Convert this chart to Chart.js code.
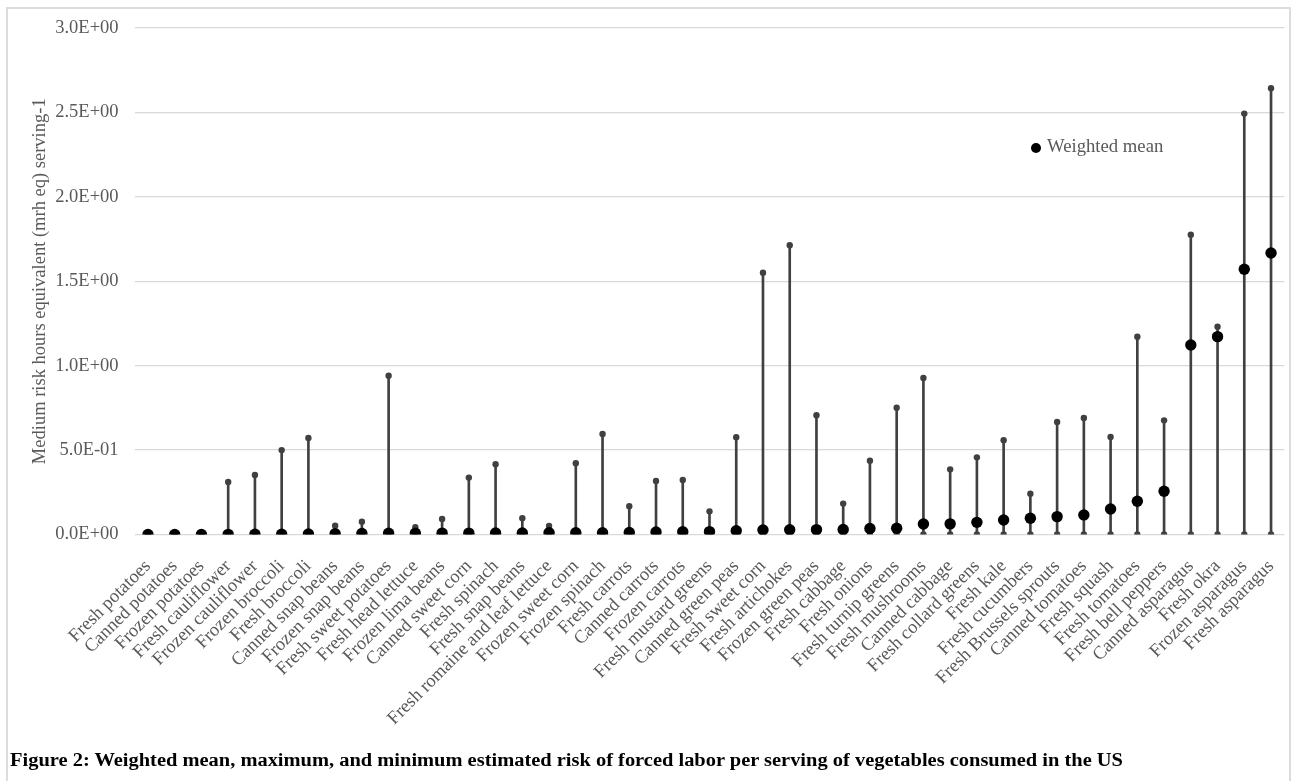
<!DOCTYPE html>
<html>
<head>
<meta charset="utf-8">
<script src="https://cdn.jsdelivr.net/npm/chart.js@4"></script>
<style>
html,body{margin:0;padding:0;background:#fff;width:1293px;height:781px;overflow:hidden;}
#frame{position:absolute;left:6px;top:7px;width:1285px;height:820px;border:2px solid #dcdcdc;box-sizing:border-box;}
#wrap{position:absolute;left:0;top:0;width:1293px;height:781px;}
#legendDot{position:absolute;left:1031px;top:143px;width:10px;height:10px;border-radius:50%;background:#000;}
#legendText{position:absolute;left:1047px;top:136px;font:18.7px "Liberation Serif","Times New Roman",serif;line-height:19px;color:#595959;white-space:nowrap;}
#caption{position:absolute;left:10px;top:751px;font:bold 18.5px "Liberation Serif","Times New Roman",serif;line-height:18.5px;color:#000;white-space:nowrap;transform-origin:0 0;}
</style>
</head>
<body>
<div id="frame"></div>
<div id="wrap"><canvas id="c" width="1293" height="781"></canvas></div>
<div id="legendDot"></div>
<div id="legendText">Weighted mean</div>
<div id="caption">Figure 2: Weighted mean, maximum, and minimum estimated risk of forced labor per serving of vegetables consumed in the US</div>
<script>
const categories = [
  "Fresh potatoes","Canned potatoes","Frozen potatoes","Fresh cauliflower","Frozen cauliflower",
  "Frozen broccoli","Fresh broccoli","Canned snap beans","Frozen snap beans","Fresh sweet potatoes",
  "Fresh head lettuce","Frozen lima beans","Canned sweet corn","Fresh spinach","Fresh snap beans",
  "Fresh romaine and leaf lettuce","Frozen sweet corn","Frozen spinach","Fresh carrots","Canned carrots",
  "Frozen carrots","Fresh mustard greens","Canned green peas","Fresh sweet corn","Fresh artichokes",
  "Frozen green peas","Fresh cabbage","Fresh onions","Fresh turnip greens","Fresh mushrooms",
  "Canned cabbage","Fresh collard greens","Fresh kale","Fresh cucumbers","Fresh Brussels sprouts",
  "Canned tomatoes","Fresh squash","Fresh tomatoes","Fresh bell peppers","Canned asparagus",
  "Fresh okra","Frozen asparagus","Fresh asparagus"
];
const meanValues = [
  0.000,0.000,0.000,0.001,0.002,
  0.002,0.003,0.004,0.006,0.007,
  0.007,0.008,0.008,0.009,0.009,
  0.010,0.010,0.010,0.012,0.015,
  0.016,0.017,0.022,0.027,0.028,
  0.029,0.030,0.036,0.037,0.062,
  0.063,0.072,0.086,0.096,0.106,
  0.116,0.151,0.197,0.256,1.122,
  1.172,1.571,1.667
];
const maxValues = [
  0.004,0.004,0.004,0.311,0.352,
  0.500,0.572,0.052,0.076,0.941,
  0.043,0.092,0.337,0.416,0.096,
  0.050,0.422,0.595,0.167,0.317,
  0.323,0.137,0.576,1.551,1.713,
  0.706,0.183,0.437,0.751,0.927,
  0.386,0.457,0.558,0.242,0.666,
  0.690,0.578,1.172,0.676,1.776,
  1.231,2.493,2.643
];
const minValues = [
  0,0,0,0,0,0,0,0,0,0,
  0,0,0,0,0,0,0,0,0,0,
  0,0,0,0,0,0,0,0,0,0,
  0,0,0,0,0,0,0,0,0,0,
  0,0,0
];
const yTickLabels = ["0.0E+00","5.0E-01","1.0E+00","1.5E+00","2.0E+00","2.5E+00","3.0E+00"];
const yAxisTitle = "Medium risk hours equivalent (mrh eq) serving-1";

const FONT = '"Liberation Serif","Times New Roman",serif';
const GREY = '#595959';
const LINE = '#404040';

// fit caption to the reference width
(function () {
  const cap = document.getElementById('caption');
  const w = cap.getBoundingClientRect().width;
  cap.style.transform = 'scaleX(' + (1113 / w) + ')';
})();

new Chart(document.getElementById('c'), {
  type: 'bar',
  data: {
    labels: categories,
    datasets: [
      {
        type: 'bar',
        label: 'Range',
        data: categories.map((c, i) => [minValues[i], maxValues[i]]),
        backgroundColor: LINE,
        borderWidth: 0,
        barThickness: 2,
        order: 3
      },
      {
        type: 'line',
        label: 'Maximum',
        data: maxValues,
        showLine: false,
        pointRadius: 3.2,
        pointBackgroundColor: LINE,
        pointBorderWidth: 0,
        borderColor: LINE,
        order: 2
      },
      {
        type: 'line',
        label: 'Minimum',
        data: minValues,
        showLine: false,
        pointRadius: 3.2,
        pointBackgroundColor: LINE,
        pointBorderWidth: 0,
        borderColor: LINE,
        order: 2
      },
      {
        type: 'line',
        label: 'Weighted mean',
        data: meanValues,
        showLine: false,
        pointRadius: 5.7,
        pointBackgroundColor: '#000',
        pointBorderWidth: 0,
        borderColor: '#000',
        order: 0
      }
    ]
  },
  options: {
    responsive: false,
    animation: false,
    devicePixelRatio: 1,
    layout: { padding: { left: 0, right: 8.6, top: 28, bottom: 46.5 } },
    plugins: { legend: { display: false }, tooltip: { enabled: false } },
    scales: {
      x: {
        type: 'category',
        offset: true,
        grid: { display: false },
        border: { display: false },
        ticks: {
          autoSkip: false, maxRotation: 45, minRotation: 45,
          font: { family: FONT, size: 18.5 }, color: GREY, padding: 13
        },
        afterFit: s => { s.height = 200; s.paddingLeft = 0; s.paddingRight = 0; }
      },
      y: {
        min: 0, max: 3,
        border: { display: false },
        grid: { color: '#d9d9d9', lineWidth: 1.3, drawTicks: false },
        ticks: {
          stepSize: 0.5,
          font: { family: FONT, size: 18.5 }, color: GREY, padding: 16,
          callback: (v, i) => yTickLabels[i]
        },
        title: {
          display: true, text: yAxisTitle,
          font: { family: FONT, size: 18.5 }, color: GREY,
          padding: { top: 29, bottom: 0 }
        },
        afterFit: s => { s.width = 134.6; s.paddingTop = 0; s.paddingBottom = 0; }
      }
    }
  }
});
</script>
</body>
</html>
